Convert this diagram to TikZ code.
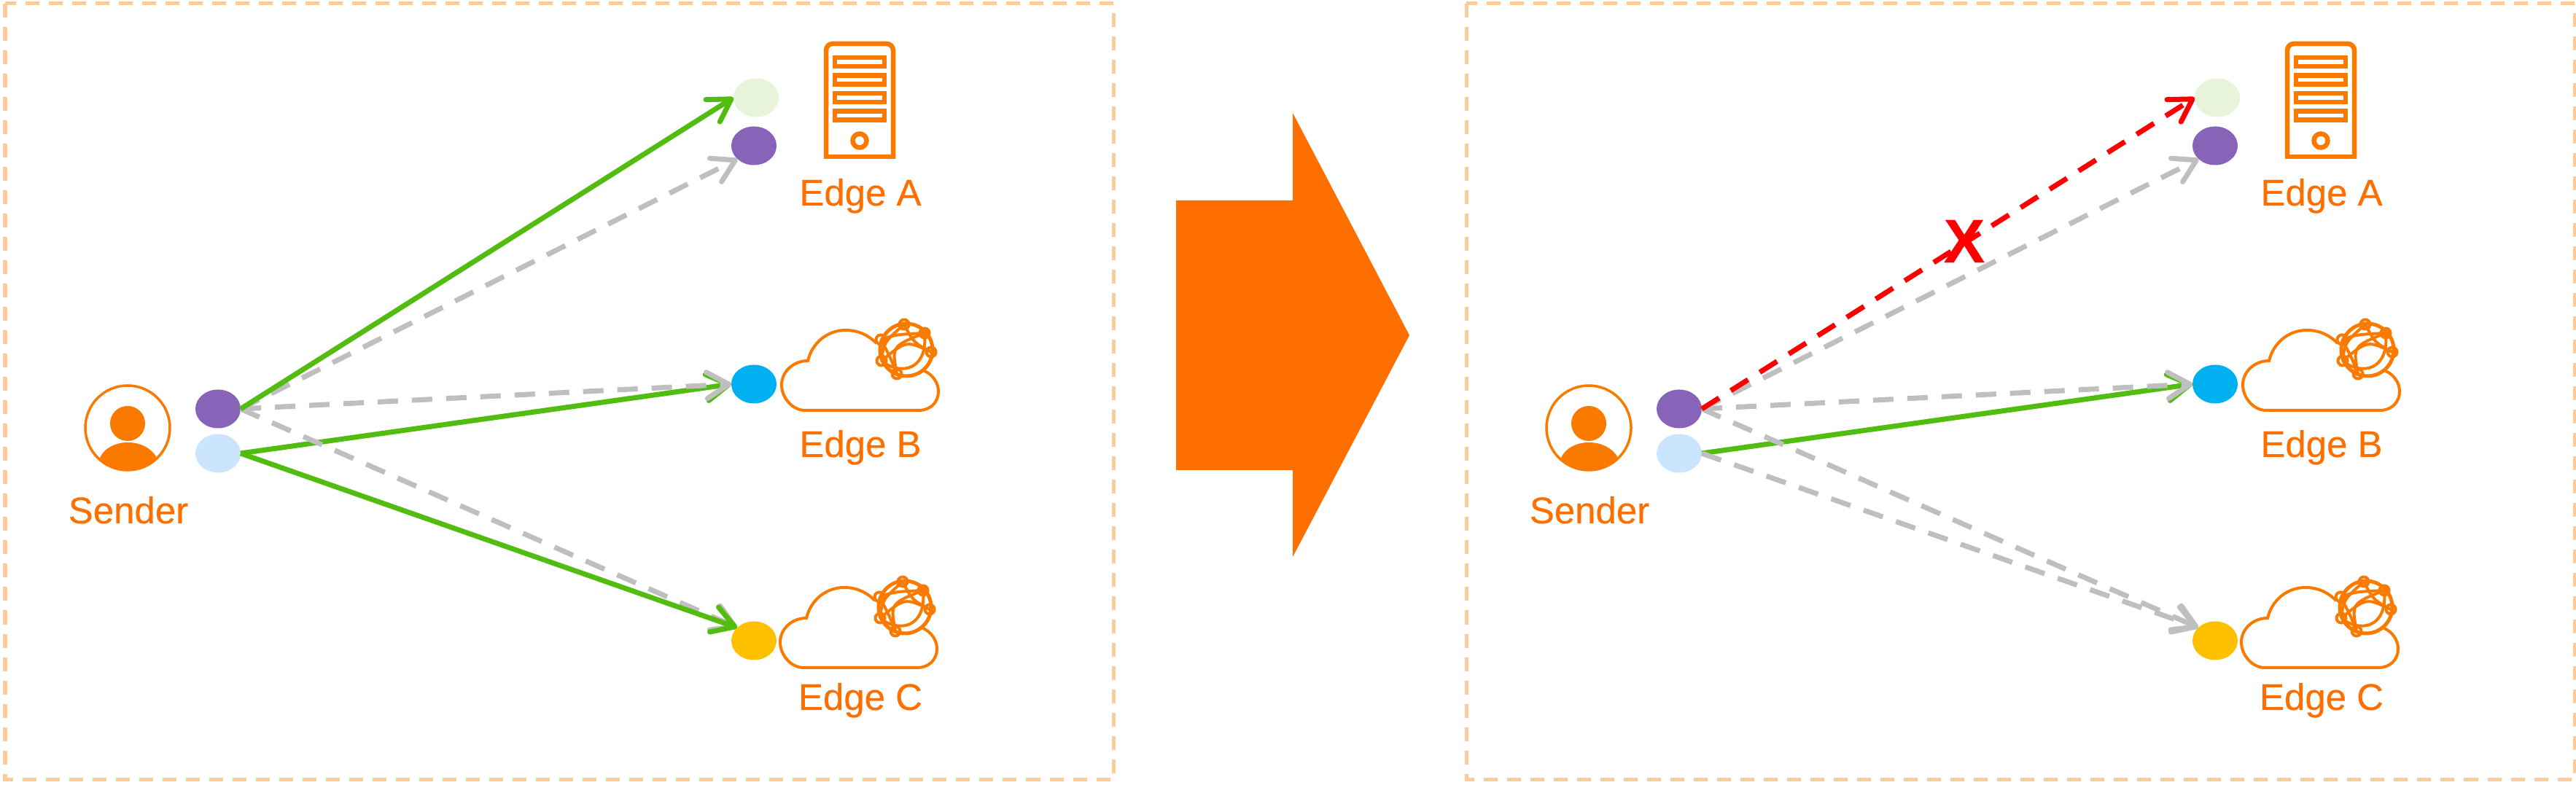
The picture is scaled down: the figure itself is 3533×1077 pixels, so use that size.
\documentclass[tikz,border=0pt]{standalone}
\usepackage{fontspec}
\setmainfont[FakeBold=0.3]{Liberation Sans}
\usetikzlibrary{arrows.meta,shapes.geometric}

\definecolor{labelorange}{HTML}{FF6F00}
\definecolor{iconorange}{HTML}{FA7A00}
\definecolor{framepeach}{HTML}{FFCC99}
\definecolor{flowgreen}{HTML}{52BC10}
\definecolor{flowgray}{HTML}{BFBFBF}
\definecolor{portpurple}{HTML}{8764B8}
\definecolor{portsky}{HTML}{CCE5FF}
\definecolor{portpale}{HTML}{E8F3DC}
\definecolor{portblue}{HTML}{00B0F0}
\definecolor{portyellow}{HTML}{FFC000}

\tikzset{
    port/.style={ellipse, inner sep=0pt, outer sep=0pt, minimum width=0.62cm, minimum height=0.53cm, fill=#1},
    lbl/.style={text=labelorange, anchor=base, inner sep=0pt, font=\fontsize{14.5}{17}\selectfont},
    iconline/.style={draw=iconorange, line width=0.04cm},
    globeline/.style={draw=iconorange, line width=0.04cm},
    flow/.style={->, line width=0.07cm, draw=#1},
    dashflow/.style={flow=#1, dash pattern=on 0.28cm off 0.19cm},
    pics/globe/.style={code={
        \draw[globeline, line width=0.05cm] (0,0) circle[radius=36];
        \draw[globeline] (-35,-14) .. controls (-15,-21) .. (25,-23);
        \draw[globeline] (-3,-35) .. controls (10,-10) .. (34,3);
        \draw[globeline] (-34,15) .. controls (0,-13) .. (34,3);
        \draw[globeline] (25,-23) .. controls (-20,-5) .. (-13,33);
        \draw[globeline] (-35,-14) .. controls (-22,10) .. (-13,33);
        \draw[globeline] (-34,15) .. controls (-10,35) and (30,30) .. (25,-23);
        \draw[globeline] (-3,-35) .. controls (-31,-10) .. (-34,15);
        \foreach \nx/\ny in {-3/-35, 25/-23, 34/3, -13/33, -34/15, -35/-14}
            \draw[globeline] (\nx,\ny) circle[radius=6.5];
    }},
    pics/edgecloud/.style={code={
        \draw[iconline] (-41,-9) .. controls (-53,-21) and (-67,-27) .. (-83,-27)
            .. controls (-108,-27) and (-129,-10) .. (-135,15)
            .. controls (-155,15) and (-171,30) .. (-171,48)
            .. controls (-171,66) and (-156,83) .. (-139,83)
            -- (17,83)
            .. controls (33,83) and (44,72) .. (44,57)
            .. controls (44,45) and (36,34) .. (25,29);
        \pic at (0,0) {globe};
    }},
    pics/server/.style={code={
        \draw[draw=iconorange, line width=0.065cm, rounded corners=0.09cm]
            (1133,218) -- (1133,60) -- (1225,60) -- (1225,218);
        \draw[draw=iconorange, line width=0.065cm] (1130,215) -- (1228,215);
        \foreach \sy in {79,103.6,128,152.7}
            \draw[draw=iconorange, line width=0.065cm] (1145,\sy) rectangle (1213,\sy+12);
        \draw[draw=iconorange, line width=0.065cm] (1179,193) circle[radius=9.5];
    }},
    pics/panel/.style={code={
        \draw[draw=framepeach, line width=0.05cm, dash pattern=on 0.19cm off 0.13cm] (7,5) rectangle (1527,1070);

        \draw[draw=iconorange, line width=0.035cm] (175,587) circle[radius=58];
        \fill[iconorange] (175,581) circle[radius=24];
        \fill[iconorange] (137,628) .. controls (150,600) and (200,600) .. (215,628)
            .. controls (195,652) and (155,652) .. cycle;
        \node[lbl] (-sender) at (176,718) {Sender};

        \pic at (0,0) {server};
        \pic at (1243,480) {edgecloud};
        \pic at (1241,833) {edgecloud};
        \node[lbl] (-labela) at (1180,282) {Edge A};
        \node[lbl] (-labelb) at (1180,627) {Edge B};
        \node[lbl] (-labelc) at (1180,974) {Edge C};

        \node[port=portpurple] (-src) at (299,561) {};
        \node[port=portsky] (-srcb) at (299,622) {};
        \node[port=portpale] (-pale) at (1037,134) {};
        \node[port=portpurple] (-dsta) at (1034,200) {};
        \node[port=portblue] (-dstb) at (1034,527) {};
        \node[port=portyellow] (-dstc) at (1034,879) {};
    }}
}

\begin{document}
\begin{tikzpicture}[
            x={(0.01cm,0cm)},
            y={(0cm,-0.01cm)},
            >={Straight Barb[length=0.3cm,width=0.36cm,round]}
        ]
        \useasboundingbox (0,0) rectangle (3533,1077);

        \pic (L) at (0,0) {panel};
        \pic (R) at (2004,0) {panel};

        \fill[labelorange] (1613,275) -- (1773,275) -- (1773,155) -- (1933,460)
            -- (1773,764) -- (1773,645) -- (1613,645) -- cycle;

        \draw[flow=flowgreen] (L-srcb.east) -- (L-dstb.west);
        \draw[dashflow=flowgray] (L-src.east) -- (L-dsta.219);
        \draw[dashflow=flowgray] (L-src.east) -- (L-dstb.west);
        \draw[dashflow=flowgray] (L-src.east) -- (L-dstc.142);
        \draw[flow=flowgreen] (L-src.east) -- (L-pale.west);
        \draw[flow=flowgreen] (L-srcb.east) -- (L-dstc.142);

        \draw[flow=flowgreen] (R-srcb.east) -- (R-dstb.west);
        \draw[dashflow=flowgray] (R-src.east) -- (R-dsta.219);
        \draw[dashflow=flowgray] (R-src.east) -- (R-dstb.west);
        \draw[dashflow=flowgray] (R-src.east) -- (R-dstc.142);
        \draw[dashflow=flowgray] (R-srcb.east) -- (R-dstc.142);
        \draw[dashflow=red] (R-src.east) -- (R-pale.west);

        \node[text=red, inner sep=0pt, font=\bfseries\fontsize{24}{24}\selectfont] (cross) at (2694,331) {X};
    \end{tikzpicture}
\end{document}
